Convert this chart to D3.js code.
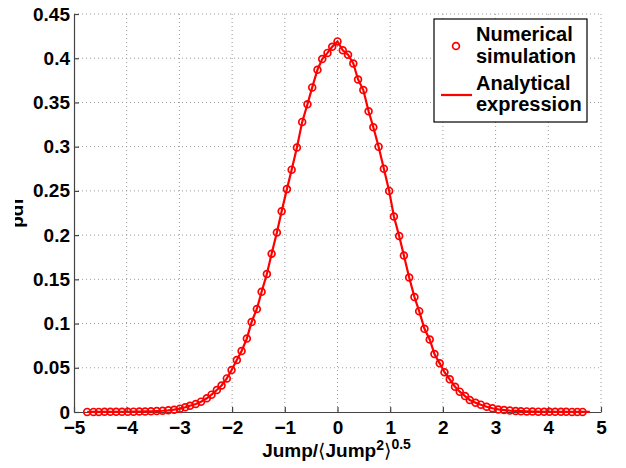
<!DOCTYPE html>
<html lang="en">
<head>
  <meta charset="utf-8">
  <style>
    body { margin: 0; background: #fff; }
    svg text { font-family: "Liberation Sans", Arial, "DejaVu Sans", sans-serif; font-weight: bold; fill: #000; }
    .grid line { stroke: #9a9a9a; stroke-width: 1px; stroke-dasharray: 1,3; }
    .axis-line { stroke: #444; stroke-width: 1.2px; }
  </style>
  <script src="https://d3js.org/d3.v7.min.js"></script>
</head>
<body>
  <script>
    // numerical simulation (markers)
    const simX = [-4.75, -4.63, -4.53, -4.42, -4.31, -4.20, -4.09, -3.98, -3.87, -3.76, -3.65, -3.54, -3.43, -3.32, -3.21, -3.10, -2.99,
      -2.89, -2.80, -2.69, -2.59, -2.48, -2.39, -2.29, -2.20, -2.10, -2.01, -1.91, -1.82, -1.72, -1.63, -1.53, -1.44, -1.34, -1.25, -1.15,
      -1.06, -0.96, -0.87, -0.77, -0.67, -0.57, -0.48, -0.38, -0.29, -0.19, -0.10, 0,
      0.10, 0.20, 0.30, 0.39, 0.49, 0.59, 0.68, 0.78, 0.88, 0.98, 1.07, 1.17, 1.26, 1.36, 1.46, 1.55, 1.65, 1.75, 1.84, 1.94,
      2.03, 2.13, 2.23, 2.32, 2.42, 2.51, 2.62, 2.72, 2.83, 2.94, 3.05, 3.16, 3.27, 3.38, 3.48, 3.59, 3.70, 3.81, 3.92, 4.02,
      4.13, 4.24, 4.34, 4.45, 4.55, 4.65];
    const simY = [0.0001, 0.0001, 0.0001, 0.0002, 0.0002, 0.0002, 0.0003, 0.0003, 0.0004, 0.0005, 0.0006, 0.0008, 0.0011, 0.0014, 0.0019, 0.0026, 0.0038,
      0.0053, 0.0071, 0.009, 0.0117, 0.0155, 0.0196, 0.0249, 0.030, 0.038, 0.0475, 0.0588, 0.069, 0.083, 0.1018, 0.1165, 0.136, 0.156, 0.179, 0.203,
      0.227, 0.252, 0.274, 0.299, 0.328, 0.348, 0.367, 0.387, 0.399, 0.406, 0.413, 0.419,
      0.409, 0.404, 0.394, 0.376, 0.364, 0.340, 0.322, 0.300, 0.275, 0.250, 0.221, 0.199, 0.177, 0.152, 0.130, 0.114, 0.094, 0.082, 0.0656, 0.055,
      0.045, 0.037, 0.0286, 0.023, 0.018, 0.0136, 0.0105, 0.0083, 0.006, 0.0042, 0.0029, 0.0022, 0.0016, 0.0012, 0.0009, 0.0007, 0.0005, 0.0004, 0.0003, 0.0003,
      0.0002, 0.0002, 0.0002, 0.0001, 0.0001, 0.0001];

    // analytical expression (line) - same support, runs a little past the last marker
    const anaX = simX.concat([4.79]);
    const anaY = simY.concat([0.0001]);

    const xTicks = [-5, -4, -3, -2, -1, 0, 1, 2, 3, 4, 5];
    const yTicks = [0, 0.05, 0.1, 0.15, 0.2, 0.25, 0.3, 0.35, 0.4, 0.45];
    const yTickLabels = ["0", "0.05", "0.1", "0.15", "0.2", "0.25", "0.3", "0.35", "0.4", "0.45"];

    const W = 626, H = 468;
    const margin = { top: 14, right: 25, bottom: 56, left: 74 };
    const width = W - margin.left - margin.right;
    const height = H - margin.top - margin.bottom;

    const root = d3.select("body").append("svg")
      .attr("width", W)
      .attr("height", H);
    const svg = root.append("g")
      .attr("transform", `translate(${margin.left},${margin.top})`);

    const x = d3.scaleLinear().domain([-5, 5]).range([0, width]);
    const y = d3.scaleLinear().domain([0, 0.45]).range([height, 0]);

    // grid
    svg.append("g").attr("class", "grid")
      .selectAll("line.v").data(xTicks.slice(1)).join("line")
      .attr("x1", d => x(d)).attr("x2", d => x(d))
      .attr("y1", 0).attr("y2", height);
    svg.append("g").attr("class", "grid")
      .selectAll("line.h").data(yTicks.slice(1)).join("line")
      .attr("x1", 0).attr("x2", width)
      .attr("y1", d => y(d)).attr("y2", d => y(d));

    // axes (matlab style: inward ticks, no box)
    const xAxis = svg.append("g")
      .attr("transform", `translate(0,${height})`)
      .call(d3.axisBottom(x).tickValues(xTicks).tickSizeInner(-5).tickSizeOuter(0).tickPadding(11));
    const yAxis = svg.append("g")
      .call(d3.axisLeft(y).tickValues(yTicks).tickFormat((d, i) => yTickLabels[i]).tickSizeInner(-5).tickSizeOuter(0).tickPadding(4));
    [xAxis, yAxis].forEach(a => {
      a.select(".domain").attr("class", "axis-line").attr("fill", "none");
      a.selectAll(".tick line").attr("stroke", "#444").attr("stroke-width", 1.2);
      a.selectAll(".tick text").style("font-size", "19px").attr("fill", "#000");
    });
    xAxis.selectAll(".tick text").attr("dy", "0.6em");

    // analytical line
    const line = d3.line()
      .x((d, i) => x(anaX[i]))
      .y(d => y(d));
    svg.append("path")
      .datum(anaY)
      .attr("fill", "none")
      .attr("stroke", "#ff0000")
      .attr("stroke-width", 2.2)
      .attr("d", line);

    // numerical markers
    svg.append("g")
      .selectAll("circle").data(simY).join("circle")
      .attr("cx", (d, i) => x(simX[i]))
      .attr("cy", d => y(d))
      .attr("r", 3.4)
      .attr("fill", "none")
      .attr("stroke", "#ff0000")
      .attr("stroke-width", 1.7);

    // axis labels
    const xl = svg.append("text")
      .attr("x", width / 2 - 1)
      .attr("y", height + 45)
      .attr("text-anchor", "middle")
      .style("font-size", "19px");
    xl.append("tspan").text("Jump/");
    xl.append("tspan").style("font-family", "'DejaVu Sans'").style("font-weight", "normal").text("\u27E8");
    xl.append("tspan").text("Jump");
    xl.append("tspan").attr("dy", -7).style("font-size", "14px").text("2");
    xl.append("tspan").attr("dy", 7).style("font-family", "'DejaVu Sans'").style("font-weight", "normal").text("\u27E9");
    xl.append("tspan").attr("dy", -8).style("font-size", "14px").text("0.5");

    // y label: the reference crops it at the left edge
    root.append("clipPath").attr("id", "ylab-clip")
      .append("rect").attr("x", 15).attr("y", 0).attr("width", 40).attr("height", H);
    root.append("g")
      .attr("clip-path", "url(#ylab-clip)")
      .append("text")
      .attr("transform", `translate(23,${margin.top + height / 2}) rotate(-90)`)
      .attr("text-anchor", "middle")
      .style("font-size", "19px")
      .text("pdf");

    // legend
    const lg = root.append("g").attr("transform", "translate(434,19)");
    lg.append("rect")
      .attr("width", 153).attr("height", 103)
      .attr("fill", "#fff").attr("stroke", "#000").attr("stroke-width", 1.2);
    lg.append("circle")
      .attr("cx", 22).attr("cy", 27).attr("r", 3.4)
      .attr("fill", "none").attr("stroke", "#ff0000").attr("stroke-width", 1.7);
    lg.append("line")
      .attr("x1", 7).attr("x2", 38).attr("y1", 76).attr("y2", 76)
      .attr("stroke", "#ff0000").attr("stroke-width", 2.2);
    const legendLines = [["Numerical", 22], ["simulation", 44], ["Analytical", 71], ["expression", 92]];
    lg.selectAll("text.lt").data(legendLines).join("text")
      .attr("x", 42).attr("y", d => d[1])
      .style("font-size", "20px")
      .text(d => d[0]);
  </script>
</body>
</html>
